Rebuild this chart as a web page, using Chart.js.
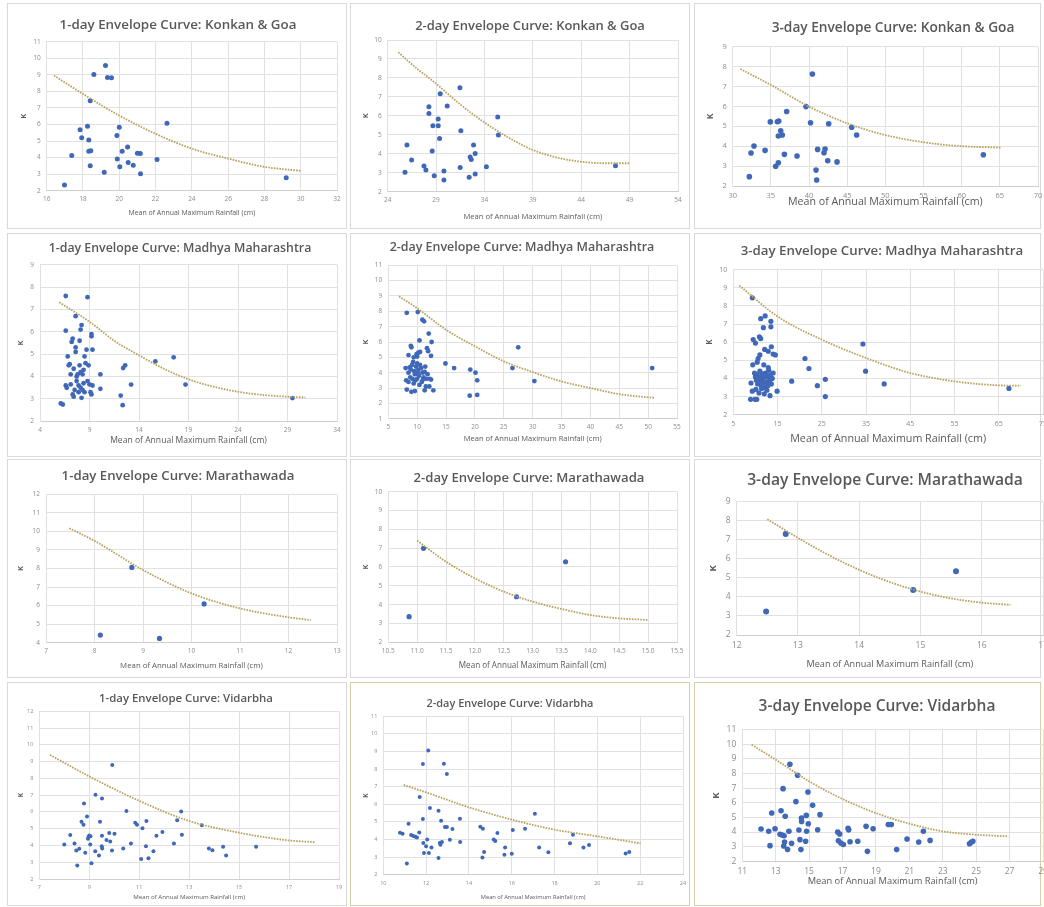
<!DOCTYPE html>
<html>
<head>
<meta charset="utf-8">
<script src="https://cdn.jsdelivr.net/npm/chart.js@4.4.1/dist/chart.umd.min.js"></script>
<style>
  html, body { margin: 0; padding: 0; background: #fff; width: 1044px; height: 907px; overflow: hidden; position: relative; font-family: "Open Sans", sans-serif; }
  .frame { position: absolute; box-sizing: border-box; border: 1px solid #d9d9d9; }
  .ttl { position: absolute; white-space: nowrap; font-weight: 600; line-height: 1; transform: translate(-50%, -50%); }
  canvas { position: absolute; }
</style>
</head>
<body>
<script>
/* ---------- Konkan & Goa ---------- */
const konkan1X = [16.98,17.38,17.84,17.93,18.25,18.32,18.32,18.43,18.4,18.4,18.6,19.17,19.24,19.35,19.57,19.87,19.89,20.0,20.03,20.16,20.46,20.49,20.77,21.0,21.16,21.17,22.08,22.63,29.2];
const konkan1K = [2.34,4.12,5.68,5.2,5.9,5.06,4.38,4.42,7.44,3.5,9.02,3.12,9.56,8.84,8.82,5.34,3.92,5.84,3.44,4.38,4.64,3.7,3.54,4.26,4.24,3.02,3.88,6.08,2.78];
const konkan1CurveX = [16.4,18,20,22,24,26,28,30];
const konkan1CurveK = [8.96,7.84,6.54,5.44,4.54,3.94,3.44,3.2];
const konkan1XTicks = [16,18,20,22,24,26,28,30,32];
const konkan1KTicks = [2,3,4,5,6,7,8,9,10,11];

const konkan2X = [25.79,25.99,26.47,27.75,27.95,28.26,28.26,28.6,28.67,28.81,29.22,29.22,29.36,29.43,29.81,29.81,30.15,31.46,31.49,31.56,32.42,32.52,32.63,32.87,33.04,33.04,34.2,35.37,35.44,47.54];
const konkan2K = [3.02,4.46,3.67,3.35,3.14,6.48,6.13,4.14,5.48,2.84,5.83,5.48,4.81,7.17,3.09,2.62,6.52,7.48,3.28,5.22,2.76,3.83,3.7,4.46,4.02,2.93,3.32,5.94,4.99,3.37];
const konkan2CurveX = [25.1,27,29,31.5,34,36.5,39,41.5,44,46.5,49];
const konkan2CurveK = [9.35,8.5,7.7,6.6,5.65,4.85,4.2,3.8,3.58,3.5,3.5];
const konkan2XTicks = [24,29,34,39,44,49,54];
const konkan2KTicks = [2,3,4,5,6,7,8,9,10];

const konkan3X = [32.18,32.4,32.79,34.24,34.93,35.63,35.98,35.85,36.03,35.98,36.29,36.5,36.77,37.07,38.43,39.6,40.2,40.44,40.92,41.0,41.13,41.96,42.1,42.45,42.58,43.67,45.59,46.24,62.84];
const konkan3K = [2.47,3.66,4.01,3.79,5.22,2.99,3.17,5.23,5.27,4.51,4.78,4.56,3.59,5.74,3.51,5.99,5.18,7.63,2.8,2.3,3.84,3.67,3.86,3.27,5.13,3.21,4.95,4.56,3.57];
const konkan3CurveX = [31,35,40,45,50,55,60,65.2];
const konkan3CurveK = [7.88,7.08,5.99,5.15,4.56,4.2,4.0,3.93];
const konkan3XTicks = [30,35,40,45,50,55,60,65,70];
const konkan3KTicks = [2,3,4,5,6,7,8,9];

/* ---------- Madhya Maharashtra ---------- */
const madhya1X = [6.1,6.3,6.6,6.6,6.6,6.7,6.8,6.9,7.0,7.1,7.1,7.2,7.3,7.3,7.4,7.4,7.5,7.6,7.6,7.6,7.7,7.7,7.8,7.9,7.9,8.0,8.1,8.2,8.0,8.1,8.1,8.2,8.3,8.3,8.4,8.4,8.5,8.5,8.6,8.7,8.8,8.8,8.9,9.0,9.1,9.2,9.2,9.3,9.2,9.3,10.1,10.1,12.15,12.35,12.4,12.6,13.2,15.65,17.5,18.7,29.5];
const madhya1K = [2.8,2.75,7.6,6.05,3.6,3.5,4.9,4.5,4.55,4.1,3.65,5.55,5.7,3.2,4.35,3.1,3.4,5.1,5.3,6.7,4.0,3.8,4.1,3.3,3.6,5.6,6.1,6.3,4.5,4.2,3.5,3.05,4.1,3.4,4.3,3.7,4.9,3.3,4.6,5.2,7.55,3.8,4.5,3.65,3.3,5.8,5.9,5.2,3.2,3.6,4.1,3.45,3.15,2.72,4.38,4.5,3.64,4.68,4.86,3.64,3.04];
const madhya1CurveX = [5.95,9,11.5,14,16.5,19,21.5,24,26.5,29,30.8];
const madhya1CurveK = [7.32,6.45,5.6,4.95,4.35,3.88,3.55,3.32,3.18,3.1,3.07];
const madhya1XTicks = [4,9,14,19,24,29,34];
const madhya1KTicks = [2,3,4,5,6,7,8,9];

const madhya2X = [8.2,10.1,10.9,11.2,12.0,10.4,12.5,8.9,9.0,8.5,11.7,11.9,12.4,9.9,10.2,10.5,10.0,9.4,11.4,8.0,8.5,8.7,8.9,9.1,9.3,9.5,9.6,9.8,10.0,10.2,10.3,10.5,10.7,10.9,11.1,11.3,11.6,11.8,12.2,12.4,8.1,8.5,8.8,9.2,9.4,9.7,10.0,10.4,10.8,11.5,12.1,8.2,9.0,9.6,11.3,12.8,9.7,10.1,11.0,14.9,16.4,19.2,20.1,20.4,19.1,20.4,26.5,27.5,30.3,50.7];
const madhya2K = [7.9,7.95,7.45,7.35,6.55,6.1,6.0,5.75,5.65,5.15,5.6,5.4,5.1,5.2,5.3,5.35,5.05,5.0,4.4,4.3,4.0,4.35,4.2,4.5,4.7,4.1,3.9,4.4,4.6,4.2,3.8,4.5,4.3,4.0,3.7,4.05,3.6,3.9,3.6,3.55,3.5,3.4,3.7,3.6,3.3,3.5,3.6,3.2,3.4,3.1,3.1,2.9,2.75,2.8,2.85,2.85,3.95,4.0,3.55,4.6,4.3,4.2,4.0,3.5,2.5,2.55,4.3,5.65,3.45,4.3];
const madhya2CurveX = [6.85,10,15,20,25,30,35,40,45,51.2];
const madhya2CurveK = [8.98,8.2,6.8,5.72,4.74,4.04,3.43,3.0,2.6,2.35];
const madhya2XTicks = [5,10,15,20,25,30,35,40,45,50,55];
const madhya2KTicks = [1,2,3,4,5,6,7,8,9,10,11];

const madhya3X = [9.3,11.2,12.2,13.5,13.5,11.8,9.5,10.0,10.9,11.2,9.4,10.6,11.0,12.1,12.9,13.6,14.0,14.5,9.0,9.3,9.9,8.9,10.3,9.8,10.0,10.2,10.4,10.5,10.7,10.9,11.0,11.2,11.3,11.5,11.6,11.8,12.0,12.1,12.3,12.5,12.7,12.8,13.0,13.2,13.4,13.6,13.8,14.0,10.1,10.8,11.4,12.0,12.6,11.9,12.9,10.4,13.3,14.9,18.2,21.2,22.1,24.0,25.8,25.8,34.3,34.9,39.1,67.3];
const madhya3K = [8.45,7.3,7.45,7.15,6.85,6.8,6.15,5.95,6.3,6.2,4.75,5.1,5.3,5.6,5.5,5.75,5.35,5.3,3.75,3.3,2.85,2.85,2.85,4.3,4.1,3.9,4.2,3.7,4.0,3.85,4.4,4.1,3.6,3.95,4.25,3.75,4.05,3.5,4.3,3.8,4.1,3.6,4.45,3.9,4.2,3.7,4.0,4.3,3.4,3.2,3.45,3.15,3.35,4.75,4.6,4.9,3.05,3.3,3.85,5.1,4.55,3.6,3.95,3.0,5.9,4.4,3.7,3.45];
const madhya3CurveX = [6.35,15,25,35,45,55,65,70];
const madhya3CurveK = [9.13,7.42,6.14,5.13,4.3,3.84,3.62,3.6];
const madhya3XTicks = [5,15,25,35,45,55,65,75];
const madhya3KTicks = [2,3,4,5,6,7,8,9,10];

/* ---------- Marathawada ---------- */
const marath1X = [8.12,8.77,9.34,10.26];
const marath1K = [4.41,8.06,4.23,6.09];
const marath1CurveX = [7.48,8,9,10,11,12,12.46];
const marath1CurveK = [10.17,9.49,7.92,6.66,5.85,5.37,5.22];
const marath1XTicks = [7,8,9,10,11,12,13];
const marath1KTicks = [4,5,6,7,8,9,10,11,12];

const marath2X = [10.86,11.11,12.72,13.57];
const marath2K = [3.36,6.99,4.42,6.28];
const marath2CurveX = [11,11.5,12,12.5,13,13.5,14,14.5,15];
const marath2CurveK = [7.4,6.28,5.4,4.69,4.16,3.77,3.45,3.27,3.19];
const marath2XTicks = [10.5,11,11.5,12,12.5,13,13.5,14,14.5,15,15.5];
const marath2KTicks = [2,3,4,5,6,7,8,9,10];

const marath3X = [12.48,12.8,14.88,15.58];
const marath3K = [3.23,7.31,4.36,5.35];
const marath3CurveX = [12.5,13,13.5,14,14.5,15,15.5,16,16.47];
const marath3CurveK = [8.08,7.1,6.2,5.42,4.78,4.28,3.92,3.7,3.58];
const marath3XTicks = [12,13,14,15,16,17];
const marath3KTicks = [2,3,4,5,6,7,8,9];

/* ---------- Vidarbha ---------- */
const vidarbha1X = [8.0,8.24,8.41,8.48,8.6,8.52,8.69,8.77,8.79,8.84,8.91,8.95,8.97,9.0,9.05,9.04,9.09,9.24,9.25,9.39,9.43,9.51,9.5,9.52,9.51,9.69,9.8,9.84,9.91,9.92,10.01,10.36,10.49,10.67,10.84,10.91,11.08,11.13,11.27,11.29,11.37,11.57,11.69,11.93,12.39,12.52,12.68,12.71,13.51,13.79,13.93,14.36,14.48,15.68];
const vidarbha1K = [4.06,4.62,4.12,3.7,3.8,2.8,5.42,5.24,6.5,3.56,5.72,4.4,4.5,4.6,4.55,4.06,2.94,3.66,7.02,3.4,5.42,4.58,3.96,3.82,6.8,4.32,4.74,4.24,3.7,8.8,4.7,3.82,6.06,4.12,5.36,5.24,3.2,5.02,3.96,5.46,3.24,3.66,4.58,4.8,4.12,5.5,6.02,4.64,5.2,3.82,3.72,3.92,3.4,3.92];
const vidarbha1CurveX = [7.43,9,11,13,15,17,18.03];
const vidarbha1CurveK = [9.4,8.12,6.66,5.46,4.76,4.3,4.2];
const vidarbha1XTicks = [7,9,11,13,15,17,19];
const vidarbha1KTicks = [2,3,4,5,6,7,8,9,10,11,12];

const vidarbha2X = [10.78,10.9,11.1,11.18,11.3,11.4,11.5,11.57,11.68,11.7,11.85,11.85,11.87,11.9,12.0,12.05,12.1,12.13,12.18,12.25,12.58,12.58,12.64,12.67,12.74,12.7,12.83,12.88,12.97,12.97,13.11,13.23,13.58,13.59,14.53,14.65,14.63,14.71,15.16,15.23,15.33,15.66,15.69,16.0,16.05,16.62,17.08,17.28,17.71,18.72,18.86,19.35,19.61,21.32,21.49];
const vidarbha2K = [4.39,4.33,2.64,4.9,4.25,4.2,4.15,4.12,4.4,6.41,5.16,8.29,3.8,3.23,3.61,4.0,9.05,3.23,5.79,3.55,5.64,2.95,3.8,3.7,3.86,5.07,8.31,4.71,4.71,7.72,3.99,4.59,5.18,3.86,4.73,4.61,2.98,3.29,4.0,3.91,4.37,3.14,3.55,3.19,4.54,4.61,5.47,3.55,3.27,3.78,4.27,3.55,3.69,3.21,3.29];
const vidarbha2CurveX = [10.95,12,14,16,18,20,22.02];
const vidarbha2CurveK = [7.1,6.68,5.83,5.13,4.56,4.18,3.78];
const vidarbha2XTicks = [10,12,14,16,18,20,22,24];
const vidarbha2KTicks = [2,3,4,5,6,7,8,9,10,11];

const vidarbha3X = [12.12,12.58,12.66,12.76,12.96,13.26,13.38,13.5,13.32,13.44,13.48,13.53,13.57,13.71,13.79,13.85,13.95,14.21,14.31,14.39,14.45,14.51,14.54,14.55,14.79,14.83,14.85,14.93,14.95,15.21,15.51,15.65,16.71,16.83,16.75,16.9,17.05,17.33,17.37,17.45,17.91,18.41,18.49,18.83,19.74,19.92,20.24,20.86,21.56,21.84,22.24,24.6,24.7,24.8];
const vidarbha3K = [4.21,4.05,3.07,5.3,4.23,3.85,3.8,3.75,5.46,6.97,3.05,3.32,5.08,2.8,4.05,8.63,3.23,6.08,7.88,4.14,3.48,2.8,4.96,4.73,3.37,5.14,4.05,6.74,4.57,5.83,4.16,5.19,4.0,3.87,3.4,3.25,3.15,4.25,4.15,3.34,3.37,4.39,2.68,4.23,4.51,4.51,2.8,3.53,3.32,4.05,3.43,3.2,3.3,3.37];
const vidarbha3CurveX = [11.56,13,15,17,19,21,23,25,26.93];
const vidarbha3CurveK = [9.97,8.95,7.47,6.26,5.3,4.57,4.05,3.82,3.71];
const vidarbha3XTicks = [11,13,15,17,19,21,23,25,27,29];
const vidarbha3KTicks = [2,3,4,5,6,7,8,9,10,11];

const X_TITLE = 'Mean of Annual Maximum Rainfall (cm)';

// layout only: box = frame, plot = chart area, head = [cx, cy, width], xtl = [centre y, width]
const panels = [
    { title: '1-day Envelope Curve: Konkan & Goa', xs: konkan1X, ks: konkan1K, cx: konkan1CurveX, ck: konkan1CurveK, xt: konkan1XTicks, kt: konkan1KTicks,
      box: [7,3,347,229], plot: [46.7,41.7,336.7,190.7], head: [178,25,237], xtl: [213,127], kX: 24, tick: 6.5, dot: 2.5 },
    { title: '2-day Envelope Curve: Konkan & Goa', xs: konkan2X, ks: konkan2K, cx: konkan2CurveX, ck: konkan2CurveK, xt: konkan2XTicks, kt: konkan2KTicks,
      box: [350,3,690,229], plot: [387.7,40,678.3,191.7], head: [530,25,230], xtl: [217,139], kX: 366, tick: 6.5, dot: 2.5 },
    { title: '3-day Envelope Curve: Konkan & Goa', xs: konkan3X, ks: konkan3K, cx: konkan3CurveX, ck: konkan3CurveK, xt: konkan3XTicks, kt: konkan3KTicks,
      box: [694,3,1041,229], plot: [732.7,46.7,1038,186], head: [893,27,243], xtl: [202,195], kX: 711, tick: 7.5, dot: 2.8 },
    { title: '1-day Envelope Curve: Madhya Maharashtra', xs: madhya1X, ks: madhya1K, cx: madhya1CurveX, ck: madhya1CurveK, xt: madhya1XTicks, kt: madhya1KTicks,
      box: [7,233,347,457], plot: [40,264.7,336.7,421.3], head: [180,248,263], xtl: [441,157], kX: 21, tick: 6.5, dot: 2.4 },
    { title: '2-day Envelope Curve: Madhya Maharashtra', xs: madhya2X, ks: madhya2K, cx: madhya2CurveX, ck: madhya2CurveK, xt: madhya2XTicks, kt: madhya2KTicks,
      box: [350,233,690,457], plot: [388.3,265.3,676.7,418.7], head: [522,247,265], xtl: [439,138], kX: 366, tick: 6.5, dot: 2.4 },
    { title: '3-day Envelope Curve: Madhya Maharashtra', xs: madhya3X, ks: madhya3K, cx: madhya3CurveX, ck: madhya3CurveK, xt: madhya3XTicks, kt: madhya3KTicks,
      box: [694,233,1041,457], plot: [733.3,269.7,1043,414.7], head: [882,251,283], xtl: [439,196], kX: 710, tick: 7, dot: 2.6 },
    { title: '1-day Envelope Curve: Marathawada', xs: marath1X, ks: marath1K, cx: marath1CurveX, ck: marath1CurveK, xt: marath1XTicks, kt: marath1KTicks,
      box: [7,459,347,678], plot: [46,494.3,337.3,642.7], head: [178,476,233], xtl: [666,143], kX: 21, tick: 6.5, dot: 2.6 },
    { title: '2-day Envelope Curve: Marathawada', xs: marath2X, ks: marath2K, cx: marath2CurveX, ck: marath2CurveK, xt: marath2XTicks, kt: marath2KTicks,
      box: [350,459,690,678], plot: [388.3,491.7,677.3,642.3], head: [529,478,231], xtl: [666,148], kX: 366, tick: 6.5, dot: 2.6 },
    { title: '3-day Envelope Curve: Marathawada', xs: marath3X, ks: marath3K, cx: marath3CurveX, ck: marath3CurveK, xt: marath3XTicks, kt: marath3KTicks,
      box: [694,459,1041,678], plot: [736.7,501.7,1042.7,635], head: [885,480,276], xtl: [664,167], kX: 713, tick: 8.5, dot: 3 },
    { title: '1-day Envelope Curve: Vidarbha', xs: vidarbha1X, ks: vidarbha1K, cx: vidarbha1CurveX, ck: vidarbha1CurveK, xt: vidarbha1XTicks, kt: vidarbha1KTicks,
      box: [7,682,347,906], plot: [39.3,711.3,339.3,879], head: [186,698,174], xtl: [897,112], kX: 21, tick: 5.5, dot: 2 },
    { title: '2-day Envelope Curve: Vidarbha', xs: vidarbha2X, ks: vidarbha2K, cx: vidarbha2CurveX, ck: vidarbha2CurveK, xt: vidarbha2XTicks, kt: vidarbha2KTicks,
      box: [350,682,690,906], plot: [383.3,716.3,683.3,874.7], head: [510,703,167], xtl: [897,105], kX: 366, tick: 5.5, dot: 2, frame: '#d8d0a8' },
    { title: '3-day Envelope Curve: Vidarbha', xs: vidarbha3X, ks: vidarbha3K, cx: vidarbha3CurveX, ck: vidarbha3CurveK, xt: vidarbha3XTicks, kt: vidarbha3KTicks,
      box: [694,682,1041,906], plot: [742.3,729.7,1042.7,861.3], head: [877,706,237], xtl: [881,170], kX: 716, tick: 8.5, dot: 2.8, frame: '#d8d0a8' }
];

Chart.defaults.font.family = '"Open Sans", sans-serif';

const measureCtx = document.createElement('canvas').getContext('2d');
function fitSize(text, weight, target) {
    measureCtx.font = weight + ' 100px "Open Sans"';
    return 100 * target / measureCtx.measureText(text).width;
}

function drawPanel(p) {
    const [bl, bt, br, bb] = p.box;
    const [pl, pt, pr, pb] = p.plot;

    const frame = document.createElement('div');
    frame.className = 'frame';
    frame.style.left = bl + 'px';
    frame.style.top = bt + 'px';
    frame.style.width = (br - bl) + 'px';
    frame.style.height = (bb - bt) + 'px';
    if (p.frame) frame.style.borderColor = p.frame;
    document.body.appendChild(frame);

    // canvas may run past the window on the right column, like the cropped original
    const cl = bl, ct = bt, cr = Math.max(br, pr + 16), cb = bb;
    const canvas = document.createElement('canvas');
    canvas.width = Math.round(cr - cl);
    canvas.height = Math.round(cb - ct);
    canvas.style.left = cl + 'px';
    canvas.style.top = ct + 'px';
    document.body.appendChild(canvas);

    const xtSize = fitSize(X_TITLE, 400, p.xtl[1]);
    const xtLH = xtSize * 1.2;
    const kSize = p.tick + 1;
    const kLH = kSize * 1.2;
    const yw = pl - (p.kX - kLH / 2);
    const xh = p.xtl[0] + xtLH / 2 - pb;
    const gridColor = '#e1e1e1';
    const tickColor = '#8c8c8c';
    const textColor = '#595959';

    new Chart(canvas, {
        type: 'scatter',
        data: {
            datasets: [
                {
                    data: p.cx.map((x, i) => ({ x: x, y: p.ck[i] })),
                    showLine: true,
                    pointRadius: 0,
                    borderColor: '#b8a15e',
                    borderWidth: 1.8,
                    borderDash: [1.6, 1.2],
                    cubicInterpolationMode: 'monotone'
                },
                {
                    data: p.xs.map((x, i) => ({ x: x, y: p.ks[i] })),
                    pointRadius: p.dot,
                    pointBackgroundColor: '#3f68b8',
                    pointBorderWidth: 0
                }
            ]
        },
        options: {
            responsive: false,
            animation: false,
            events: [],
            layout: {
                padding: {
                    left: p.kX - kLH / 2 - cl,
                    top: pt - ct,
                    right: cr - pr,
                    bottom: cb - (p.xtl[0] + xtLH / 2)
                }
            },
            plugins: { legend: { display: false }, tooltip: { enabled: false } },
            scales: {
                x: {
                    type: 'linear',
                    min: p.xt[0],
                    max: p.xt[p.xt.length - 1],
                    afterBuildTicks: s => { s.ticks = p.xt.map(v => ({ value: v })); },
                    afterFit: s => { s.height = xh; },
                    grid: { color: gridColor, drawTicks: false },
                    border: { color: '#cfcfcf' },
                    ticks: { font: { size: p.tick }, color: tickColor, padding: 5, maxRotation: 0, autoSkip: false },
                    title: { display: true, text: X_TITLE, font: { size: xtSize }, color: textColor, padding: 0 }
                },
                y: {
                    type: 'linear',
                    min: p.kt[0],
                    max: p.kt[p.kt.length - 1],
                    afterBuildTicks: s => { s.ticks = p.kt.map(v => ({ value: v })); },
                    afterFit: s => { s.width = yw; },
                    grid: { color: gridColor, drawTicks: false },
                    border: { color: gridColor },
                    ticks: { font: { size: p.tick }, color: tickColor, padding: 6, autoSkip: false },
                    title: { display: true, text: 'K', font: { size: kSize, weight: 'bold' }, color: textColor, padding: 0 }
                }
            }
        }
    });

    const head = document.createElement('div');
    head.className = 'ttl';
    head.textContent = p.title;
    head.style.fontSize = fitSize(p.title, 600, p.head[2]) + 'px';
    head.style.left = p.head[0] + 'px';
    head.style.top = p.head[1] + 'px';
    head.style.color = textColor;
    document.body.appendChild(head);
}

panels.forEach(drawPanel);
</script>
</body>
</html>
